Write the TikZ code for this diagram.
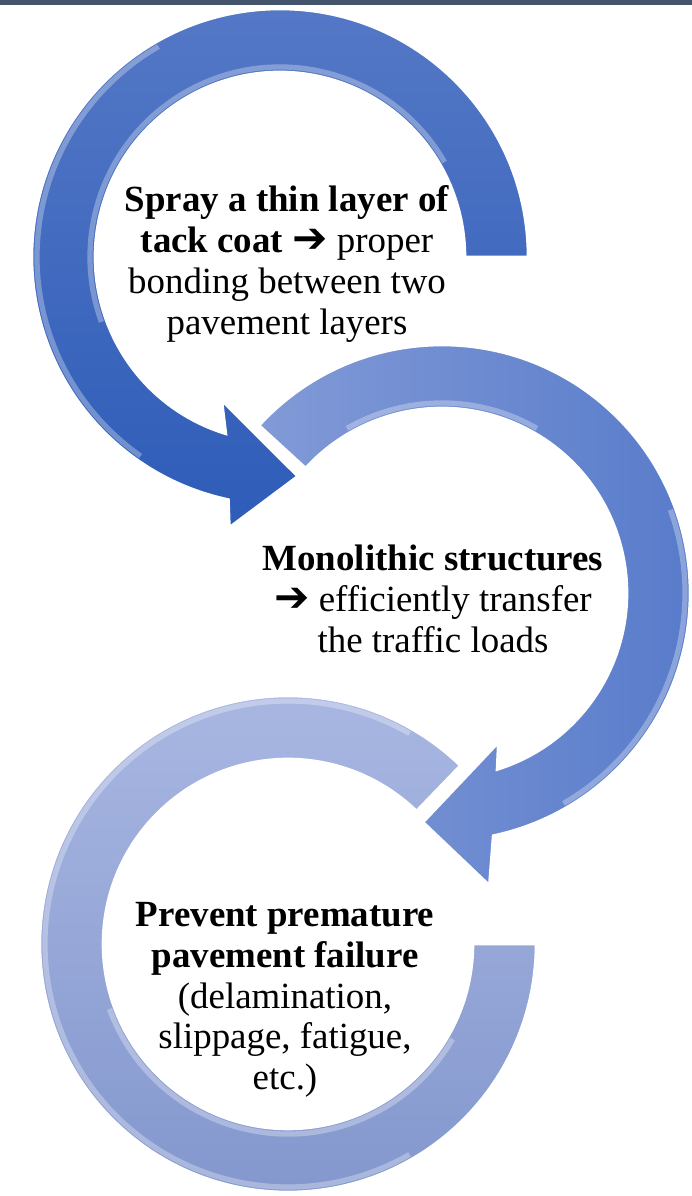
\documentclass[tikz,border=0pt]{standalone}
\usepackage{fontspec}
\setmainfont{Liberation Serif}
\newfontfamily\arrowfont{DejaVu Sans}
\usepackage{xcolor}

\definecolor{barslate}{HTML}{44546A}
\definecolor{ringAtop}{RGB}{84,120,198}
\definecolor{ringAbot}{RGB}{46,92,184}
\definecolor{ringBtop}{RGB}{130,154,215}
\definecolor{ringBbot}{RGB}{86,122,202}
\definecolor{ringCtop}{RGB}{170,184,226}
\definecolor{ringCbot}{RGB}{130,150,205}

\newcommand{\thickarr}{{\arrowfont\bfseries\fontsize{24}{22.7}\selectfont ➔}}

\tikzset{
  ring/.style={draw=white, line width=1.5},
  rim/.style={white, opacity=0.3, line width=3},
  ringtext/.style={align=center, inner sep=0pt,
    font=\fontsize{21}{23.2}\selectfont},
}

\begin{document}
\begin{tikzpicture}[x=0.02cm,y=0.02cm]
    \useasboundingbox (0,0) rectangle (692,1196);
    \coordinate (C1) at (280, 939);
    \coordinate (C2) at (442, 603);
    \coordinate (C3) at (288, 252);

    % top bar
    \fill[barslate] (0,1191) rectangle (692,1196);

    % third ring (no head)
    \begin{scope}[shift={(C3)}]
    \path[ring, top color=ringCtop, bottom color=ringCbot]
        (46:248) arc[start angle=46, end angle=360, radius=248]
        -- (0:185) arc[start angle=360, end angle=46, radius=185] -- cycle;
    \draw[rim] (60:243) arc[start angle=60, end angle=300, radius=243];
    \draw[rim] (200:190) arc[start angle=200, end angle=330, radius=190];
    \end{scope}

    % second ring
    \begin{scope}[shift={(C2)}]
    \path[ring, left color=ringBtop, right color=ringBbot]
        (137.5:248) arc[start angle=137.5, end angle=-78.1, radius=248]
        -- (-80.8:296) -- (-94.7:230) -- (-69.4:160) -- (-72.7:185)
        arc[start angle=-72.7, end angle=137.5, radius=185] -- cycle;
    \draw[rim] (20:243) arc[start angle=20, end angle=-60, radius=243];
    \draw[rim] (120:190) arc[start angle=120, end angle=60, radius=190];
    \end{scope}

    % first ring
    \begin{scope}[shift={(C1)}]
    \path[ring, top color=ringAtop, bottom color=ringAbot]
        (0:248) arc[start angle=0, end angle=258, radius=248]
        -- (259.4:275) -- (274.6:220) -- (248:155) -- (253:185)
        arc[start angle=253, end angle=0, radius=185] -- cycle;
    \draw[rim] (120:243) arc[start angle=120, end angle=235, radius=243];
    \draw[rim] (30:190) arc[start angle=30, end angle=200, radius=190];
    \end{scope}

%labels
    \node[ringtext] (T1) at (287, 932)
        {\textbf{Spray a thin layer of}\\
         \textbf{tack coat} \thickarr{} proper\\
         bonding between two\\
         pavement layers};
    \node[ringtext] (T2) at (433, 597)
        {\textbf{Monolithic structures}\\
         \thickarr{} efficiently transfer\\
         the traffic loads};
    \node[ringtext] (T3) at (285, 196)
        {\textbf{Prevent premature}\\
         \textbf{pavement failure}\\
         (delamination,\\
         slippage, fatigue,\\
         etc.)};

\end{tikzpicture}
\end{document}
